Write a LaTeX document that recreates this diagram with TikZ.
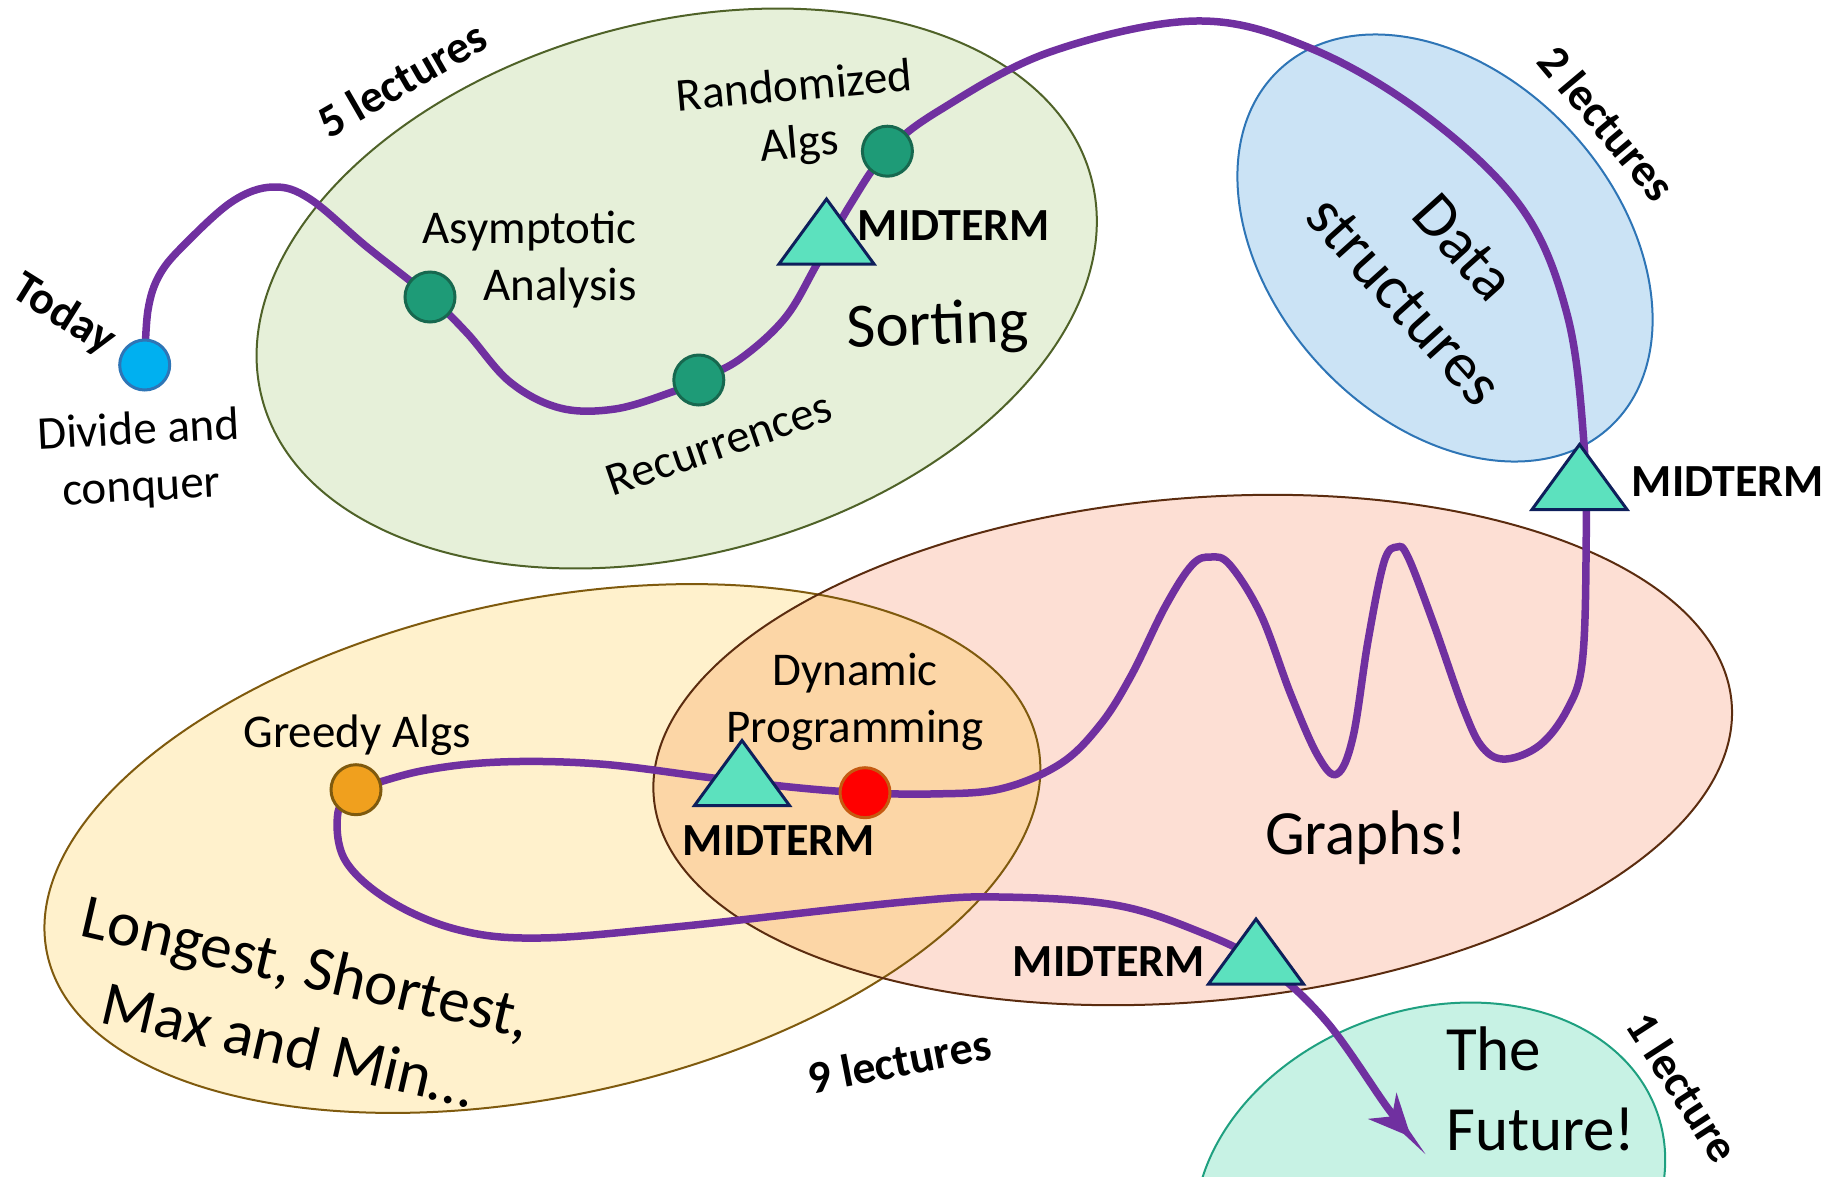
\documentclass[tikz,border=0pt]{standalone}
\usepackage{fontspec}
\setmainfont{Carlito}
\usetikzlibrary{arrows.meta}

\definecolor{routec}{HTML}{7030A0}
\definecolor{greenfill}{HTML}{E6F0D9}
\definecolor{greenline}{HTML}{4F6228}
\definecolor{bluefill}{HTML}{CBE3F5}
\definecolor{blueline}{HTML}{2E75B6}
\definecolor{peachfill}{HTML}{FDDFD4}
\definecolor{peachline}{HTML}{5B2C0F}
\definecolor{yellowfill}{HTML}{FFF1CC}
\definecolor{yellowline}{HTML}{7F5A0E}
\definecolor{overlapfill}{HTML}{FCD6A6}
\definecolor{mintfill}{HTML}{C7F2E4}
\definecolor{mintline}{HTML}{1FA080}
\definecolor{dotblue}{HTML}{00B0F0}
\definecolor{dotblueb}{HTML}{2E75B6}
\definecolor{dotteal}{HTML}{1E9B77}
\definecolor{dottealb}{HTML}{17684F}
\definecolor{dotorange}{HTML}{F0A01E}
\definecolor{dotorangeb}{HTML}{7F5A0E}
\definecolor{dotred}{HTML}{FF0000}
\definecolor{dotredb}{HTML}{C55A11}
\definecolor{trifill}{HTML}{5CE1BE}
\definecolor{tridraw}{HTML}{0E1F5B}

\tikzset{
  lbl/.style={font=\fontsize{47}{57}\selectfont, inner sep=0pt, align=center},
  big/.style={font=\fontsize{63}{80}\selectfont, inner sep=0pt, align=center},
  bld/.style={font=\bfseries\fontsize{46}{55}\selectfont, inner sep=0pt},
  dotnode/.style={circle, minimum size=50pt, inner sep=0pt, line width=3pt, draw},
  route/.style={draw=routec, line width=7.5pt},
  tri/.style={fill=trifill, draw=tridraw, line width=3pt, line join=miter},
  rim/.style={line width=2pt},
}

\begin{document}
\begin{tikzpicture}[x=1pt,y=-1pt]
\useasboundingbox (0,0) rectangle (1839,1176);
\clip (0,0) rectangle (1839,1176);

% region fills
\fill[greenfill, rotate around={15:(676.7,288.5)}] (676.7,288.5) ellipse [x radius=429pt, y radius=266pt];
\fill[bluefill, rotate around={-47.4:(1445,248)}] (1445,248) ellipse [x radius=243.4pt, y radius=171.6pt];
\fill[yellowfill, rotate around={12:(542.4,848.5)}] (542.4,848.5) ellipse [x radius=506.3pt, y radius=247.9pt];
\fill[peachfill, rotate around={5.08:(1192.7,750)}] (1192.7,750) ellipse [x radius=541pt, y radius=251.6pt];
\begin{scope}
  \clip[rotate around={12:(542.4,848.5)}] (542.4,848.5) ellipse [x radius=506.3pt, y radius=247.9pt];
  \fill[overlapfill, rotate around={5.08:(1192.7,750)}] (1192.7,750) ellipse [x radius=541pt, y radius=251.6pt];
\end{scope}
\fill[mintfill, rotate around={19.65:(1430,1193)}] (1430,1193) ellipse [x radius=241pt, y radius=183pt];

% region outlines
\draw[rim, greenline, rotate around={15:(676.7,288.5)}] (676.7,288.5) ellipse [x radius=429pt, y radius=266pt];
\draw[rim, blueline, rotate around={-47.4:(1445,248)}] (1445,248) ellipse [x radius=243.4pt, y radius=171.6pt];
\draw[rim, yellowline, rotate around={12:(542.4,848.5)}] (542.4,848.5) ellipse [x radius=506.3pt, y radius=247.9pt];
\draw[rim, peachline, rotate around={5.08:(1192.7,750)}] (1192.7,750) ellipse [x radius=541pt, y radius=251.6pt];
\draw[rim, mintline, rotate around={19.65:(1430,1193)}] (1430,1193) ellipse [x radius=241pt, y radius=183pt];

% stop positions
\coordinate (c-today) at (144.7,365);
\coordinate (c-asym) at (430,297);
\coordinate (c-rec) at (698.8,380);
\coordinate (c-rand) at (887.4,151.2);
\coordinate (c-greedy) at (356,789.7);
\coordinate (c-dp) at (865,792.7);
\coordinate (m1) at (826.5,231.5);
\coordinate (m2) at (1579.5,477);
\coordinate (m3) at (742,773);
\coordinate (m4) at (1256,951.5);
\coordinate (goal) at (1411,1137);

% the route
\draw[route] plot[smooth, tension=0.6] coordinates {
  (c-today) (148,310) (160,274) (186,243) (233,201) (273,187) (310,199)
  (367,247) (c-asym) (467,333) (510,382) (560,408) (615,409) (672,392)
  (c-rec) (740,359) (785,318) (817,264) (850,205) (c-rand)
  (940,110) (1050,52) (1196,21) (1310,48) (1425,115) (1521,207)
  (1567,314) (1584,444) (1586,560) (1582,664)
  (1567,710) (1540,745) (1506,759) (1483,748) (1464,710) (1433,622) (1408,557)
  (1397,547) (1384,562) (1368,641) (1353,737) (1337,774) (1318,756) (1291,695)
  (1261,615) (1230,565) (1211,557) (1192,565) (1165,607) (1131,676) (1100,725)
  (1060,764) (1000,789) (930,794) (c-dp) (800,788) (713,778) (600,764)
  (500,762) (421,771) (c-greedy)};
\draw[route, -{Stealth[length=42pt, width=38pt, inset=14pt]}] plot[smooth, tension=0.6] coordinates {
  (c-greedy) (338,812) (345,860) (390,901) (459,930) (540,938) (675,927)
  (904,902) (1000,897) (1115,905) (1200,932) (1265,965) (1326,1021)
  (1387,1107) (goal)};

% stops
\node[dotnode, fill=dotblue, draw=dotblueb] (today) at (c-today) {};
\node[dotnode, fill=dotteal, draw=dottealb] (asym) at (c-asym) {};
\node[dotnode, fill=dotteal, draw=dottealb] (rec) at (c-rec) {};
\node[dotnode, fill=dotteal, draw=dottealb] (rand) at (c-rand) {};
\node[dotnode, fill=dotorange, draw=dotorangeb] (greedy) at (c-greedy) {};
\node[dotnode, fill=dotred, draw=dotredb] (dp) at (c-dp) {};

% midterm markers
\draw[tri] (m1) ++(0,-32.5) -- ++(47.5,65) -- ++(-95,0) -- cycle;
\draw[tri] (m2) ++(0,-32.5) -- ++(47.5,65) -- ++(-95,0) -- cycle;
\draw[tri] (m3) ++(0,-32.5) -- ++(47.5,65) -- ++(-95,0) -- cycle;
\draw[tri] (m4) ++(0,-32.5) -- ++(47.5,65) -- ++(-95,0) -- cycle;

% labels
\node[bld, rotate=-32] (todaylbl) at (64,315) {Today};
\node[bld, rotate=30] (lec5) at (402,79) {5 lectures};
\node[bld, rotate=-50] (lec2) at (1607,123) {2 lectures};
\node[bld, rotate=11] (lec9) at (899,1061) {9 lectures};
\node[bld, rotate=-57] (lec1) at (1683,1087) {1 lecture};

\node[bld] (mt1) at (954,226) {MIDTERM};
\node[bld] (mt2) at (1728,482) {MIDTERM};
\node[bld] (mt3) at (779,841) {MIDTERM};
\node[bld] (mt4) at (1109,962) {MIDTERM};

\node[lbl, rotate=3] (dclbl) at (140,460) {Divide and\\conquer};
\node[lbl, align=right, anchor=east] (asymlbl) at (637,259.5) {Asymptotic\\Analysis};
\node[lbl, rotate=5] (randlbl) at (797,117) {Randomized\\Algs};
\node[lbl, rotate=19] (reclbl) at (719,444) {Recurrences};
\node[big, rotate=2] (sortlbl) at (938,328) {Sorting};
\node[big, rotate=-48] (dslbl) at (1434,274) {Data\\structures};
\node[lbl] (greedylbl) at (357,735) {Greedy Algs};
\node[lbl] (dplbl) at (855,702) {Dynamic\\Programming};
\node[big] (graphslbl) at (1366,838) {Graphs!};
\node[big, rotate=-13] (lslbl) at (298,1005) {Longest, Shortest,\\Max and Min…};
\node[big, align=left, anchor=west] (futlbl) at (1446,1089) {The\\Future!};
\end{tikzpicture}
\end{document}
